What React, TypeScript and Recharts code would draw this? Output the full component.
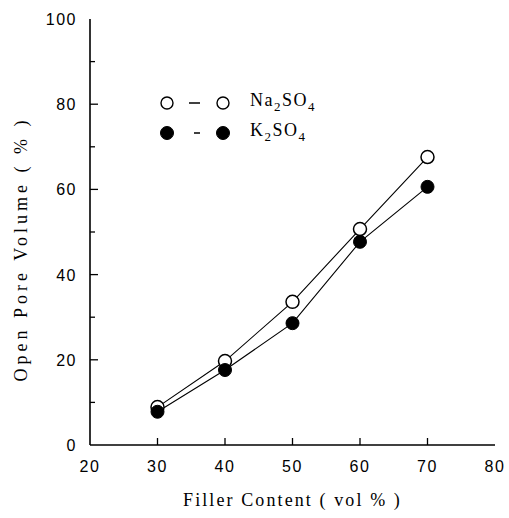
import React from 'react';
import { LineChart, Line, XAxis, YAxis } from 'recharts';

const fillerContent = [30, 40, 50, 60, 70];
const na2so4 = [8.9, 19.7, 33.6, 50.7, 67.6];
const k2so4 = [7.8, 17.6, 28.6, 47.7, 60.6];
const xTicks = [20, 30, 40, 50, 60, 70, 80];
const xInnerTicks = [30, 40, 50, 60, 70];
const yTicks = [0, 10, 20, 30, 40, 50, 60, 70, 80, 90, 100];

const data = fillerContent.map((x, i) => ({ x, na: na2so4[i], k: k2so4[i] }));

const numFont = '"Liberation Sans", Arial, sans-serif';
const serifFont = '"Liberation Serif", serif';

const BottomTick = (props: any) => {
  const { x, y, payload } = props;
  const v = payload.value;
  const inner = v !== 20 && v !== 80;
  return (
    <g>
      {inner && <line x1={x} y1={y} x2={x} y2={y - 7} stroke="#000" strokeWidth={1.3} />}
      <text x={x} y={y + 27} textAnchor="middle" style={{ fontFamily: numFont, fontSize: 16, letterSpacing: 1.5 }} fill="#000">
        {v}
      </text>
    </g>
  );
};

const TopTick = (props: any) => {
  const { x, y } = props;
  return <line x1={x} y1={y} x2={x} y2={y + 7} stroke="#000" strokeWidth={1.3} />;
};

const LeftTick = (props: any) => {
  const { x, y, payload } = props;
  const v = payload.value;
  const major = v % 20 === 0;
  const edge = v === 0 || v === 100;
  return (
    <g>
      {!edge && <line x1={x} y1={y} x2={x + (major ? 8 : 5)} y2={y} stroke="#000" strokeWidth={1.3} />}
      {major && (
        <text x={x - 13} y={y + 6} textAnchor="end" style={{ fontFamily: numFont, fontSize: 16, letterSpacing: 1.5 }} fill="#000">
          {v}
        </text>
      )}
    </g>
  );
};

const RightTick = (props: any) => {
  const { x, y, payload } = props;
  const v = payload.value;
  const major = v % 20 === 0;
  const edge = v === 0 || v === 100;
  if (edge) return <g />;
  return <line x1={x} y1={y} x2={x - (major ? 8 : 5)} y2={y} stroke="#000" strokeWidth={1.3} />;
};

const LegendBox = () => {
  const rowStyle: React.CSSProperties = { display: 'flex', alignItems: 'center', height: 30 };
  return (
    <div
      style={{
        position: 'absolute',
        left: 155,
        top: 88,
        fontFamily: '"Liberation Serif", serif',
        fontSize: 18,
        color: '#000',
        letterSpacing: 1.5,
        lineHeight: '30px',
      }}
    >
      <div style={rowStyle}>
        <svg width={95} height={30}>
          <circle cx={12} cy={15} r={6} fill="#fff" stroke="#000" strokeWidth={1.4} />
          <line x1={34} y1={15} x2={45} y2={15} stroke="#000" strokeWidth={1.5} />
          <circle cx={68} cy={15} r={6} fill="#fff" stroke="#000" strokeWidth={1.4} />
        </svg>
        <span>
          Na<sub style={{ fontSize: 13 }}>2</sub>SO<sub style={{ fontSize: 13 }}>4</sub>
        </span>
      </div>
      <div style={rowStyle}>
        <svg width={95} height={30}>
          <circle cx={12} cy={15} r={6.5} fill="#000" stroke="#000" strokeWidth={1} />
          <line x1={39} y1={15} x2={45} y2={15} stroke="#000" strokeWidth={1.5} />
          <circle cx={68} cy={15} r={6.5} fill="#000" stroke="#000" strokeWidth={1} />
        </svg>
        <span>
          K<sub style={{ fontSize: 13 }}>2</sub>SO<sub style={{ fontSize: 13 }}>4</sub>
        </span>
      </div>
    </div>
  );
};

const XTitle = (props: any) => {
  const vb = props.viewBox || { x: 90, width: 405 };
  return (
    <text
      x={vb.x + vb.width / 2}
      y={506}
      textAnchor="middle"
      style={{ fontFamily: serifFont, fontSize: 18, letterSpacing: 2.1 }}
      fill="#000"
    >
      Filler Content ( vol % )
    </text>
  );
};

const YTitle = () => (
  <text
    x={21}
    y={249}
    transform="rotate(-90 21 249)"
    textAnchor="middle"
    dominantBaseline="central"
    style={{ fontFamily: serifFont, fontSize: 18, letterSpacing: 4 }}
    fill="#000"
  >
    Open Pore Volume ( % )
  </text>
);

export default function App() {
  return (
    <div style={{ position: 'absolute', left: 0, top: 0, width: 509, height: 518, background: '#fff' }}>
      <LineChart width={509} height={518} data={data} margin={{ top: 19, right: 14, bottom: 0, left: 0 }}>
        <XAxis
          xAxisId="t"
          orientation="top"
          dataKey="x"
          type="number"
          domain={[20, 80]}
          ticks={xInnerTicks}
          interval={0}
          height={0}
          tickSize={0}
          tickMargin={0}
          tick={<TopTick />}
          axisLine={{ stroke: '#000', strokeWidth: 1.6 }}
          tickLine={false}
        />
        <XAxis
          xAxisId="b"
          orientation="bottom"
          dataKey="x"
          type="number"
          domain={[20, 80]}
          ticks={xTicks}
          interval={0}
          height={73}
          tickSize={0}
          tickMargin={0}
          tick={<BottomTick />}
          axisLine={{ stroke: '#000', strokeWidth: 1.6 }}
          tickLine={false}
          label={{ content: <XTitle /> }}
        />
        <YAxis
          yAxisId="l"
          orientation="left"
          type="number"
          domain={[0, 100]}
          ticks={yTicks}
          interval={0}
          width={90}
          tickSize={0}
          tickMargin={0}
          tick={<LeftTick />}
          axisLine={{ stroke: '#000', strokeWidth: 1.6 }}
          tickLine={false}
          label={{ content: <YTitle /> }}
        />
        <YAxis
          yAxisId="r"
          orientation="right"
          type="number"
          domain={[0, 100]}
          ticks={yTicks}
          interval={0}
          width={0}
          tickSize={0}
          tickMargin={0}
          tick={<RightTick />}
          axisLine={{ stroke: '#000', strokeWidth: 1.6 }}
          tickLine={false}
        />
        <Line
          xAxisId="b"
          yAxisId="l"
          type="linear"
          dataKey="na"
          stroke="#000"
          strokeWidth={1.1}
          dot={{ r: 6.5, fill: '#fff', stroke: '#000', strokeWidth: 1.5 }}
          isAnimationActive={false}
        />
        <Line
          xAxisId="b"
          yAxisId="l"
          type="linear"
          dataKey="k"
          stroke="#000"
          strokeWidth={1.1}
          dot={{ r: 6.5, fill: '#000', stroke: '#000', strokeWidth: 1 }}
          isAnimationActive={false}
        />
      </LineChart>
      <LegendBox />
    </div>
  );
}
